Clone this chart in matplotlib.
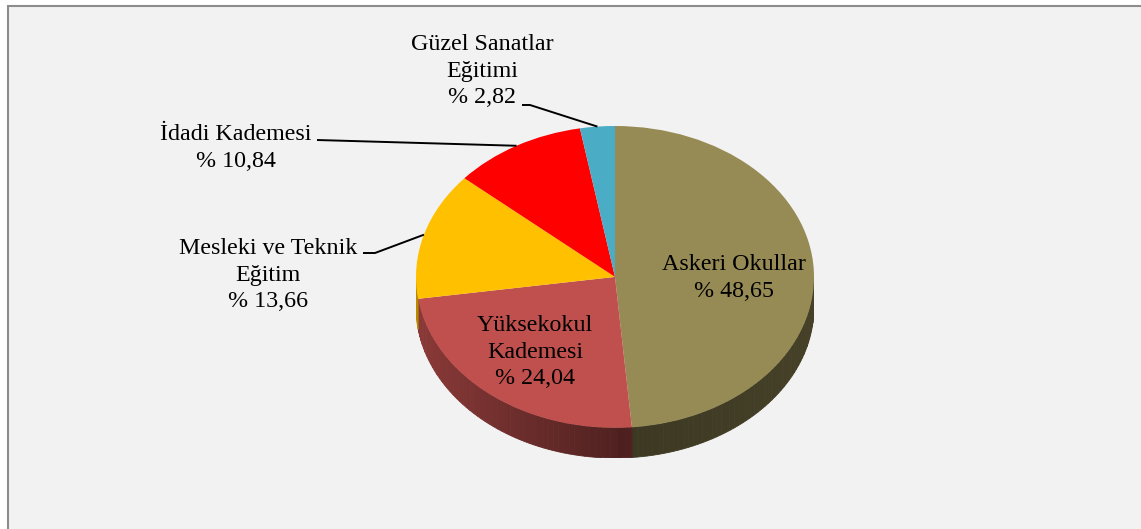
import numpy as np
import matplotlib.pyplot as plt
import matplotlib.patches as patches
from matplotlib.colors import to_rgb

labels = ["Askeri Okullar", "Yüksekokul\nKademesi", "Mesleki ve Teknik\nEğitim",
          "İdadi Kademesi", "Güzel Sanatlar\nEğitimi"]
shares = [48.65, 24.04, 13.66, 10.84, 2.82]
share_text = ["48,65", "24,04", "13,66", "10,84", "2,82"]
colors = ["#968b55", "#c0504d", "#ffc000", "#ff0000", "#4bacc6"]

W, H = 1141, 529
DEPTH = 0.2

plt.rcParams["font.family"] = ["Liberation Serif", "DejaVu Serif"]

fig = plt.figure(figsize=(W / 100, H / 100), dpi=100)
fig.patch.set_facecolor("white")

# background axes in pixel coordinates
bg = fig.add_axes([0, 0, 1, 1])
bg.set_xlim(0, W)
bg.set_ylim(H, 0)
bg.axis("off")
bg.add_patch(patches.Rectangle((7.5, 6), W + 10, H + 10, facecolor="#f2f2f2",
                               edgecolor="#8c8c8c", lw=1.5))

# pie axes: unit circle stretched into the ellipse
ax = fig.add_axes([416 / W, (H - 458) / H, 398 / W, 332 / H])
wedges, _ = ax.pie(shares, colors=colors, startangle=90, counterclock=False,
                   wedgeprops=dict(linewidth=0, zorder=3))
ax.set_aspect("auto")
ax.set_xlim(-1, 1)
ax.set_ylim(-1 - DEPTH, 1)
ax.axis("off")
ax.patch.set_alpha(0)


def side_shade(x):
    # left side lighter, front/right darker
    if x < 0:
        return 0.42 - 0.3 * x
    return 0.40 + 0.06 * x


# side band of the 3D disc (front half only)
for w, col in zip(wedges, colors):
    base = np.array(to_rgb(col))
    for k in (-360, 0, 360):
        lo = max(w.theta1 + k, -180)
        hi = min(w.theta2 + k, 0)
        if hi <= lo:
            continue
        edges = np.linspace(lo, hi, max(int((hi - lo) / 1.5), 2) + 1)
        for a0, a1 in zip(edges[:-1], edges[1:]):
            t = np.radians(np.linspace(a0, a1, 4))
            xs = np.cos(t)
            ys = np.sin(t)
            px = np.concatenate([xs, xs[::-1]])
            py = np.concatenate([ys, ys[::-1] - DEPTH])
            c = np.clip(base * side_shade(xs.mean()), 0, 1)
            ax.add_patch(patches.Polygon(np.column_stack([px, py]), closed=True,
                                         facecolor=c, edgecolor=c, lw=0.6, zorder=1))

# overlay for labels and leader lines
top = fig.add_axes([0, 0, 1, 1])
top.set_xlim(0, W)
top.set_ylim(H, 0)
top.axis("off")
top.patch.set_alpha(0)

fig.canvas.draw()


def rim_point(w):
    mid = np.radians((w.theta1 + w.theta2) / 2)
    disp = ax.transData.transform((np.cos(mid), np.sin(mid)))
    return top.transData.inverted().transform(disp)


fs = 17.3
ls = 1.32
# inside labels
top.text(734, 278, f"{labels[0]}\n% {share_text[0]}", ha="center", va="center",
         fontsize=fs, linespacing=ls)
top.text(535, 352, f"{labels[1]}\n% {share_text[1]}", ha="center", va="center",
         fontsize=fs, linespacing=ls)

# outside labels with leader lines
outside = [
    (2, (268, 275), (363, 253), (375, 253)),
    (3, (236, 148), (317, 140), (317, 140)),
    (4, (482, 71), (522, 105), (530, 105)),
]
for i, pos, p0, p1 in outside:
    top.text(pos[0], pos[1], f"{labels[i]}\n% {share_text[i]}", ha="center",
             va="center", fontsize=fs, linespacing=ls)
    rx, ry = rim_point(wedges[i])
    top.plot([p0[0], p1[0], rx], [p0[1], p1[1], ry], color="black", lw=1.4,
             solid_capstyle="butt")

fig.savefig("out.png", dpi=100, facecolor=fig.get_facecolor())
